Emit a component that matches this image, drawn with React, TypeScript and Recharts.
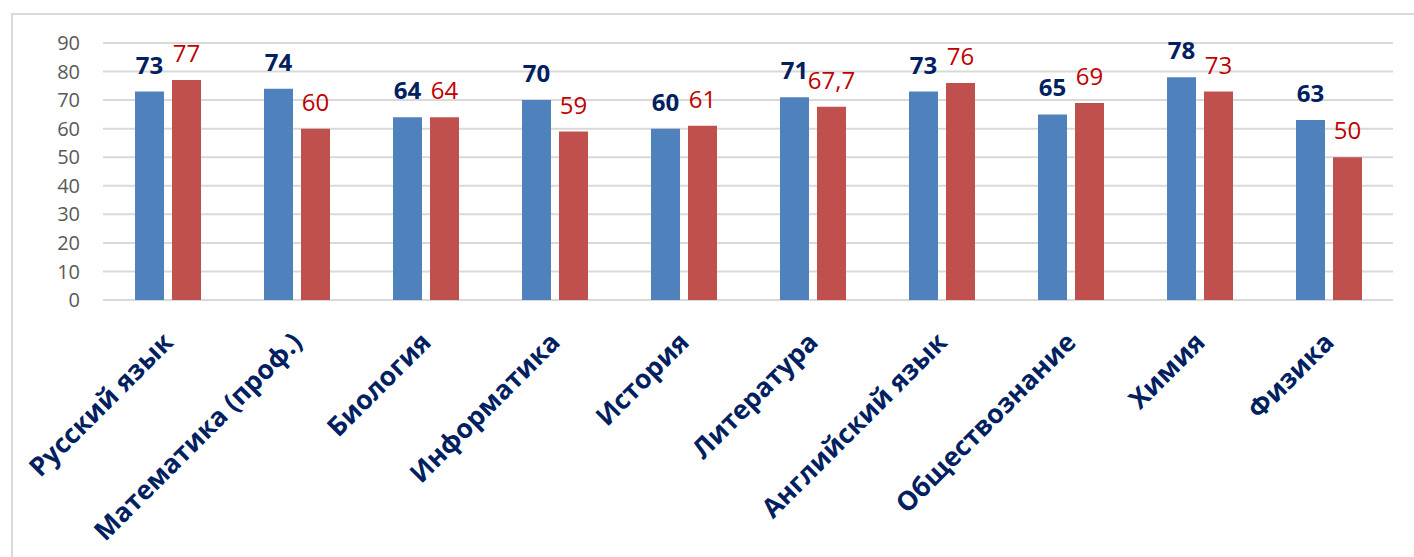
import React from "react";
import {
  Bar,
  BarChart,
  CartesianGrid,
  LabelList,
  XAxis,
  YAxis,
} from "recharts";

const SUBJECTS = [
  "Русский язык",
  "Математика (проф.)",
  "Биология",
  "Информатика",
  "История",
  "Литература",
  "Английский язык",
  "Обществознание",
  "Химия",
  "Физика",
];

const SCHOOL = [73, 74, 64, 70, 60, 71, 73, 65, 78, 63];
const REGION = [77, 60, 64, 59, 61, 67.7, 76, 69, 73, 50];

const Y_TICKS = [0, 10, 20, 30, 40, 50, 60, 70, 80, 90];

const FONT = "'Open Sans', 'Noto Sans', sans-serif";

const data = SUBJECTS.map((name, i) => ({
  name,
  school: SCHOOL[i],
  region: REGION[i],
}));

const CategoryTick = (props: any) => {
  const { x, y, payload } = props;
  return (
    <g transform={`translate(${x + 7},${y + 44})`}>
      <text
        transform="rotate(-45)"
        textAnchor="end"
        fill="#002060"
        fontFamily={FONT}
        fontWeight={700}
        fontSize={26.5}
      >
        {payload.value}
      </text>
    </g>
  );
};

const fmt = (v: any) => String(v).replace(".", ",");

export default function App() {
  return (
    <div
      style={{
        position: "absolute",
        left: 0,
        top: 0,
        width: 1414,
        height: 557,
        background: "#fff",
        overflow: "hidden",
      }}
    >
      <div
        style={{
          position: "absolute",
          left: 11,
          top: 13,
          width: 1420,
          height: 560,
          borderLeft: "2px solid #d9d9d9",
          borderTop: "2px solid #d9d9d9",
        }}
      />
      <BarChart
        width={1414}
        height={557}
        data={data}
        margin={{ top: 43, right: 21, left: 0, bottom: 0 }}
        barSize={29}
        barGap={8}
        style={{ position: "absolute", left: 0, top: 0 }}
      >
        <CartesianGrid
          vertical={false}
          stroke="#d9d9d9"
          strokeWidth={2}
        />
        <XAxis
          dataKey="name"
          height={257}
          axisLine={false}
          tickLine={false}
          tickSize={0}
          tickMargin={0}
          interval={0}
          tick={<CategoryTick />}
        />
        <YAxis
          width={103}
          domain={[0, 90]}
          ticks={Y_TICKS}
          axisLine={false}
          tickLine={false}
          tickMargin={17}
          tick={{ fill: "#595959", fontSize: 20, fontFamily: FONT }}
        />
        <Bar dataKey="school" fill="#4F81BD" isAnimationActive={false}>
          <LabelList
            dataKey="school"
            position="top"
            offset={18}
            fill="#002060"
            fontWeight={700}
            fontSize={24}
            fontFamily={FONT}
            formatter={fmt}
          />
        </Bar>
        <Bar dataKey="region" fill="#C0504D" isAnimationActive={false}>
          <LabelList
            dataKey="region"
            position="top"
            offset={18}
            fill="#C00000"
            fontSize={24}
            fontFamily={FONT}
            formatter={fmt}
          />
        </Bar>
      </BarChart>
    </div>
  );
}
